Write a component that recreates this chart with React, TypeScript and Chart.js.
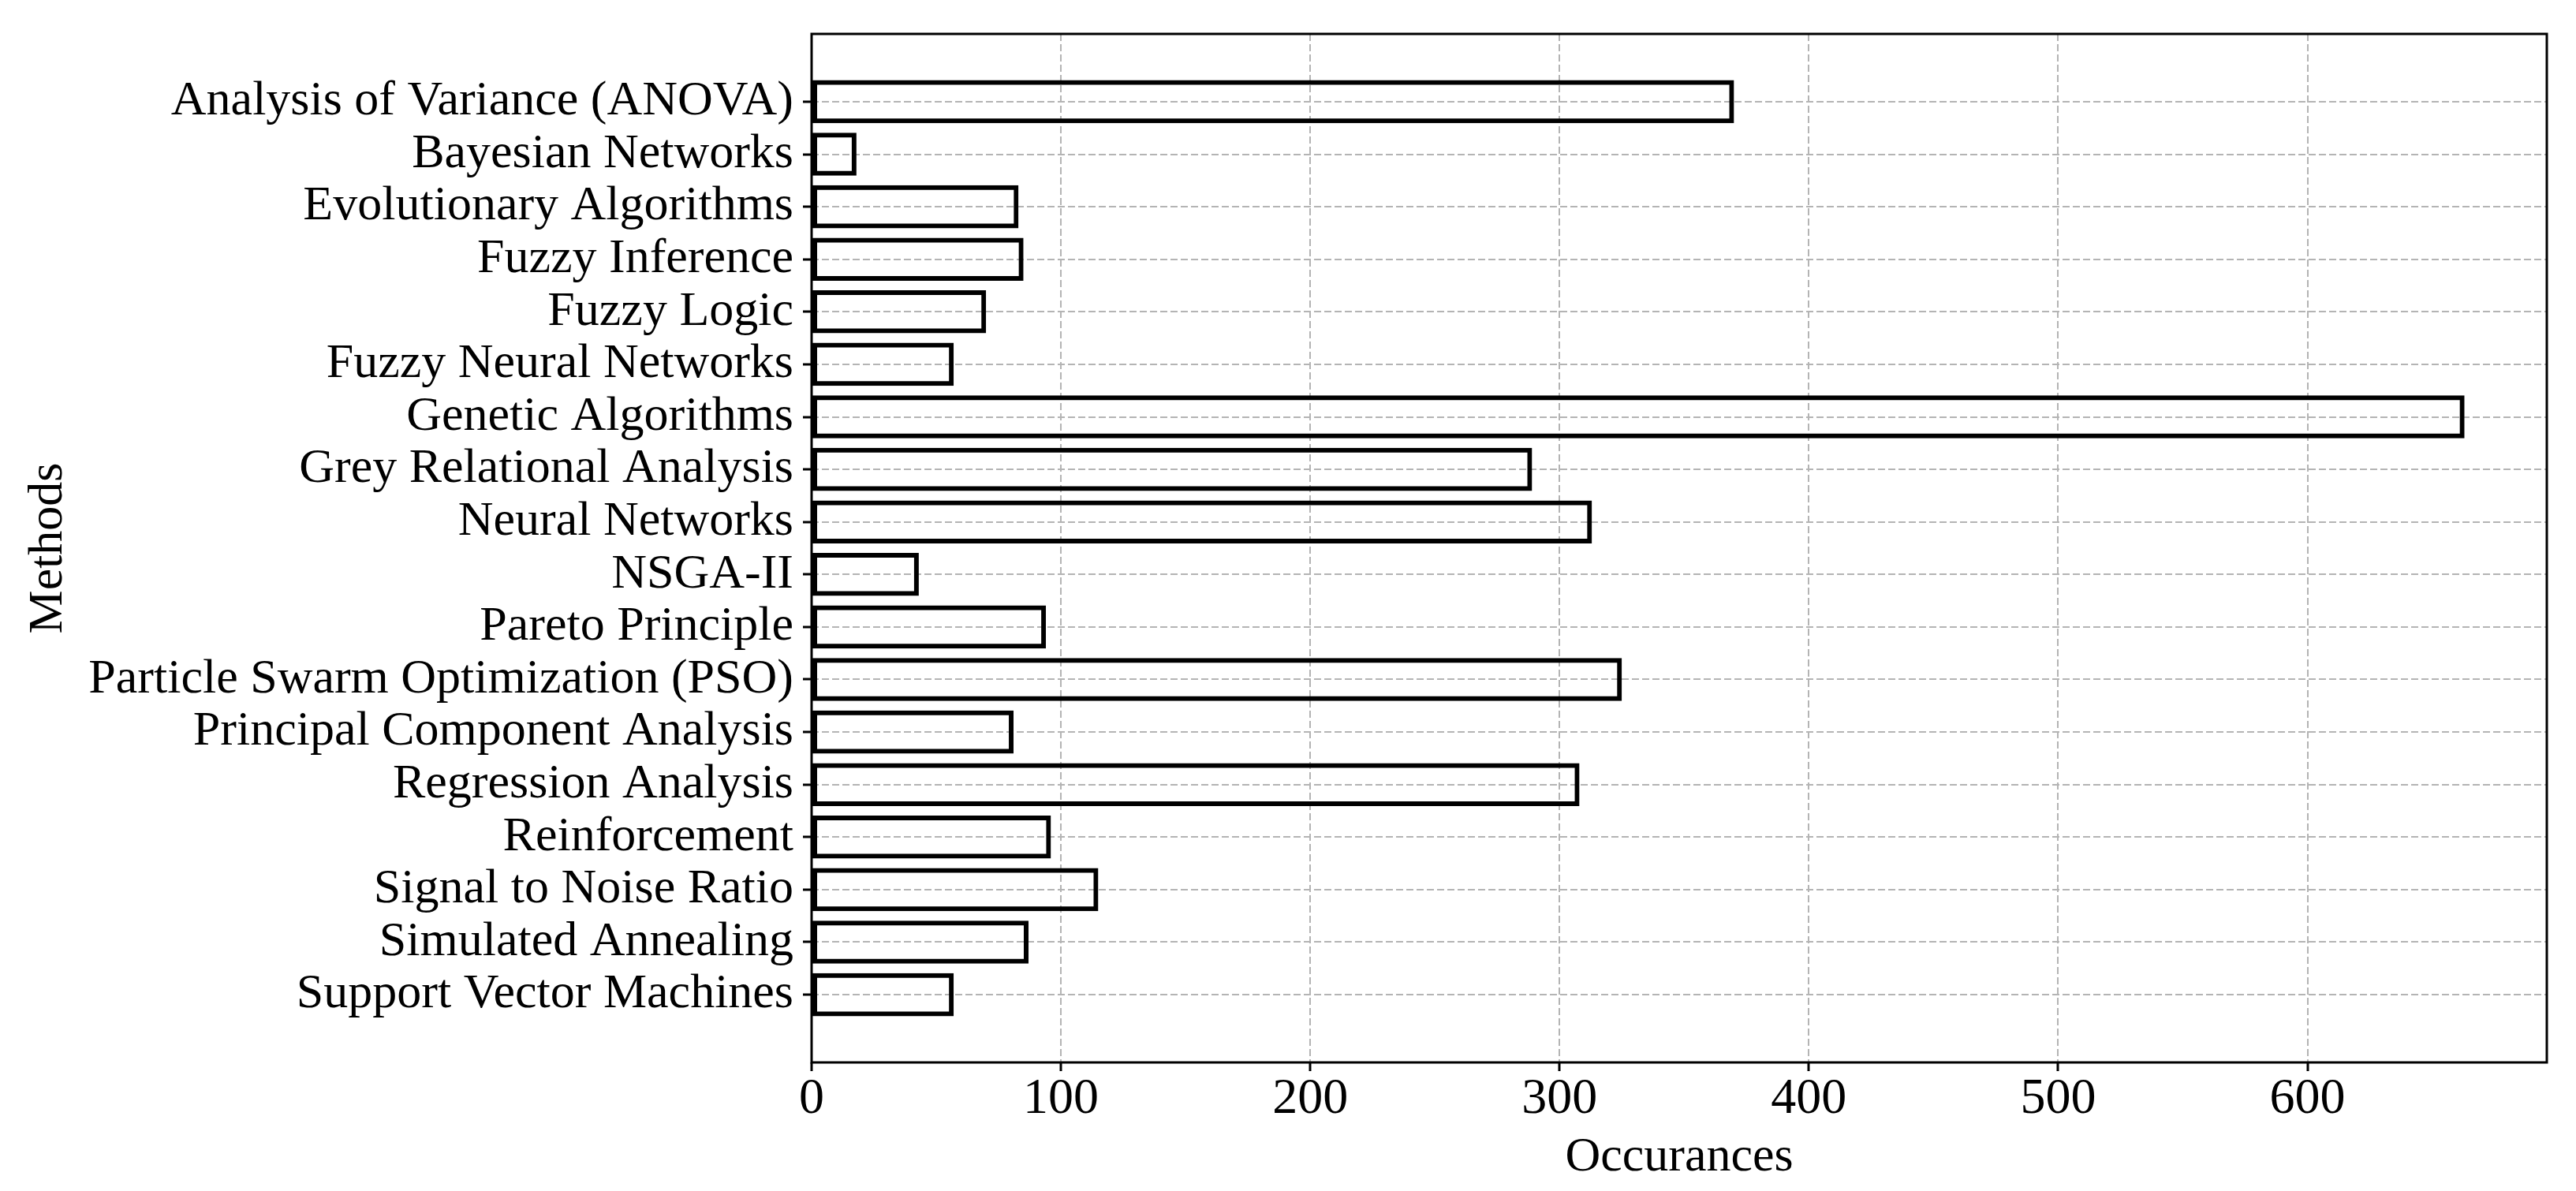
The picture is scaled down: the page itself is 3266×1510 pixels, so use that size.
import React, { useEffect, useRef } from "react";
import { Chart, registerables } from "chart.js";

Chart.register(...registerables);

const methods: string[] = [
  "Analysis of Variance (ANOVA)",
  "Bayesian Networks",
  "Evolutionary Algorithms",
  "Fuzzy Inference",
  "Fuzzy Logic",
  "Fuzzy Neural Networks",
  "Genetic Algorithms",
  "Grey Relational Analysis",
  "Neural Networks",
  "NSGA-II",
  "Pareto Principle",
  "Particle Swarm Optimization (PSO)",
  "Principal Component Analysis",
  "Regression Analysis",
  "Reinforcement",
  "Signal to Noise Ratio",
  "Simulated Annealing",
  "Support Vector Machines",
];

const occurances: number[] = [
  370, 18, 83, 85, 70, 57, 663, 289, 313, 43, 94, 325, 81, 308, 96, 115, 87, 57,
];

const xTicks: number[] = [0, 100, 200, 300, 400, 500, 600];
const xMax = 696;

const FONT = "'Liberation Serif', 'Times New Roman', Times, serif";

const W = 3266;
const H = 1510;
const AREA_LEFT = 1029;
const AREA_RIGHT = 3229;
const AREA_TOP = 33;
const AREA_BOTTOM = 1347;

const boxPlugin = {
  id: "boxPlugin",
  afterDatasetsDraw(chart: any) {
    const { ctx, chartArea } = chart;
    ctx.save();
    ctx.strokeStyle = "#000";
    ctx.lineWidth = 3;
    ctx.setLineDash([]);
    ctx.strokeRect(
      chartArea.left,
      chartArea.top,
      chartArea.right - chartArea.left,
      chartArea.bottom - chartArea.top
    );
    ctx.restore();
  },
};

export default function App() {
  const canvasRef = useRef<HTMLCanvasElement | null>(null);

  useEffect(() => {
    const canvas = canvasRef.current;
    if (!canvas) return;
    const n = methods.length;
    const span = n - 1 + 0.8;
    const yMin = -0.4 - 0.05 * span;
    const yMax = n - 1 + 0.4 + 0.05 * span;

    const chart = new Chart(canvas, {
      type: "bar",
      data: {
        datasets: [
          {
            data: occurances.map((v, i) => ({ x: v, y: i })),
            backgroundColor: "rgba(0,0,0,0)",
            borderColor: "#000",
            borderWidth: 6,
            borderSkipped: false,
            categoryPercentage: 1,
            barPercentage: 0.82,
          } as any,
        ],
      },
      plugins: [boxPlugin],
      options: {
        indexAxis: "y",
        animation: false,
        responsive: false,
        maintainAspectRatio: false,
        layout: {
          padding: { left: 0, top: AREA_TOP, right: W - AREA_RIGHT, bottom: 0 },
        },
        plugins: {
          legend: { display: false },
          tooltip: { enabled: false },
          title: { display: false },
        },
        scales: {
          x: {
            type: "linear",
            position: "bottom",
            min: 0,
            max: xMax,
            offset: false,
            afterBuildTicks: (scale: any) => {
              scale.ticks = xTicks.map((v) => ({ value: v }));
            },
            afterFit: (scale: any) => {
              scale.height = H - AREA_BOTTOM;
            },
            grid: {
              offset: false,
              color: "#b4b4b4",
              lineWidth: 2,
              drawTicks: true,
              tickLength: 11,
              tickColor: "#000",
              tickWidth: 3,
              tickBorderDash: [],
            },
            border: { display: false, dash: [9, 4] },
            ticks: {
              color: "#000",
              font: { family: FONT, size: 64, lineHeight: 1.0 },
              padding: 4,
              maxRotation: 0,
              autoSkip: false,
            },
            title: {
              display: true,
              text: "Occurances",
              color: "#000",
              font: { family: FONT, size: 62, lineHeight: 1.2 },
              padding: { top: 0, bottom: 5 },
            },
          },
          y: {
            type: "linear",
            position: "left",
            reverse: true,
            min: yMin,
            max: yMax,
            offset: false,
            afterBuildTicks: (scale: any) => {
              scale.ticks = methods.map((_, i) => ({ value: i }));
            },
            afterFit: (scale: any) => {
              scale.width = AREA_LEFT;
            },
            grid: {
              offset: false,
              color: "#b4b4b4",
              lineWidth: 2,
              drawTicks: true,
              tickLength: 11,
              tickColor: "#000",
              tickWidth: 3,
              tickBorderDash: [],
            },
            border: { display: false, dash: [9, 4] },
            ticks: {
              color: "#000",
              font: { family: FONT, size: 62, lineHeight: 1.0 },
              padding: 12,
              autoSkip: false,
              callback: (value: any) => methods[Math.round(Number(value))] ?? "",
            },
            title: {
              display: true,
              text: "Methods",
              color: "#000",
              font: { family: FONT, size: 62, lineHeight: 1.2 },
              padding: { top: 25, bottom: 0 },
            },
          },
        },
      } as any,
    });

    return () => {
      chart.destroy();
    };
  }, []);

  return (
    <div
      style={{
        position: "fixed",
        left: 0,
        top: 0,
        width: W,
        height: H,
        background: "#fff",
      }}
    >
      <canvas
        ref={canvasRef}
        width={W}
        height={H}
        style={{ width: W, height: H, display: "block" }}
      />
    </div>
  );
}
